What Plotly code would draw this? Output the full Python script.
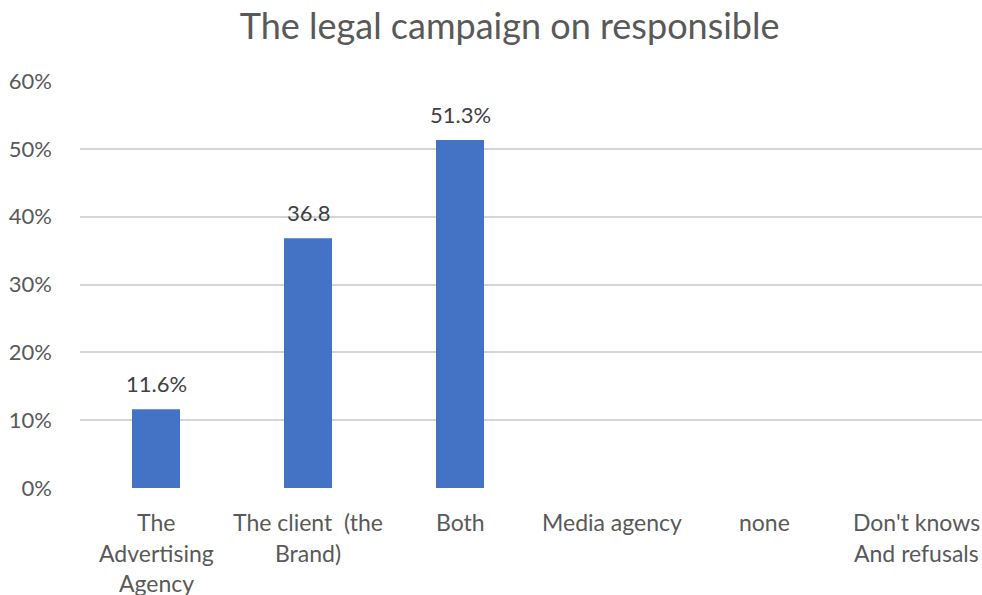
import plotly.graph_objects as go

categories = ["The Advertising Agency", "The client  (the Brand)", "Both",
              "Media agency", "none", "Don't knows And refusals"]
category_lines = [["The", "Advertising", "Agency"], ["The client  (the", "Brand)"], ["Both"],
                  ["Media agency"], ["none"], ["Don't knows", "And refusals"]]
values = [11.6, 36.8, 51.3, None, None, None]
value_labels = ["11.6%", "36.8", "51.3%", "", "", ""]
y_ticks = [0, 10, 20, 30, 40, 50, 60]
y_tick_labels = ["0%", "10%", "20%", "30%", "40%", "50%", "60%"]

FONT = "Lato"
TXT = "#595959"

fig = go.Figure()
fig.add_trace(go.Bar(x=categories, y=values, marker=dict(color="#4472C4", line=dict(width=0)),
                     hoverinfo="skip"))

ann = []
for cat, lines in zip(categories, category_lines):
    for i, ln in enumerate(lines):
        ann.append(dict(x=cat, y=0, xref="x", yref="y", text=ln, showarrow=False,
                        yanchor="middle", yshift=-34 - 30.5 * i,
                        font=dict(family=FONT, size=23, color=TXT)))
for cat, v, lab in zip(categories, values, value_labels):
    if v is not None and lab:
        ann.append(dict(x=cat, y=v, xref="x", yref="y", text=lab, showarrow=False,
                        yanchor="middle", yshift=26,
                        font=dict(family=FONT, size=22, color="#404040")))

fig.update_layout(
    width=982, height=595,
    margin=dict(l=80, r=0, t=81, b=107),
    paper_bgcolor="white", plot_bgcolor="white",
    title=dict(text="The legal campaign on responsible", x=0.519, xanchor="center",
               y=0.955, yanchor="middle", xref="container", yref="container",
               font=dict(family=FONT, size=36, color=TXT)),
    bargap=0.684,
    showlegend=False,
    annotations=ann,
)
fig.update_xaxes(range=[-0.5, 5.434], showticklabels=False, showgrid=False,
                 zeroline=False, showline=False, ticks="")
fig.update_yaxes(range=[0, 60], tickvals=y_ticks, ticktext=y_tick_labels,
                 showgrid=True, gridcolor="#d6d6d6", gridwidth=1.7, zeroline=False,
                 showline=False, ticks="", ticklabelstandoff=27,
                 tickfont=dict(family=FONT, size=22, color=TXT))

fig.write_html("out.html")
